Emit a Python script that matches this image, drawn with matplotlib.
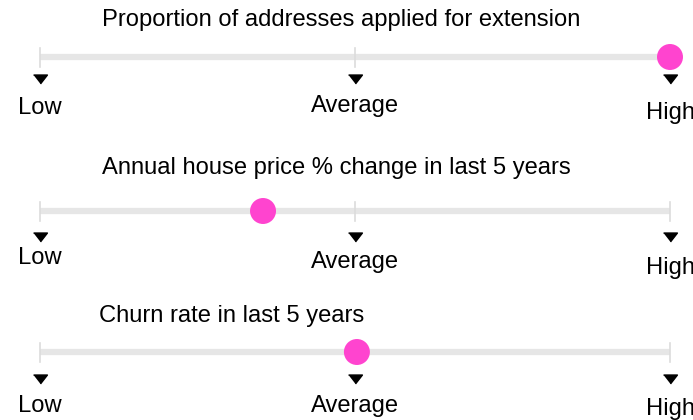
import numpy as np
import matplotlib
matplotlib.use("Agg")
import matplotlib.pyplot as plt

# data
titles = ["Proportion of addresses applied for extension",
          "Annual house price % change in last 5 years",
          "Churn rate in last 5 years"]
values = [1.0, 0.354, 0.503]   # position on Low..High scale (0..1)
tick_labels = ["Low", "Average", "High"]
tick_pos = [0.0, 0.5, 1.0]

plt.rcParams['font.family'] = ['Liberation Sans', 'DejaVu Sans']

fig = plt.figure(figsize=(6.93, 4.20), dpi=100)
ax = fig.add_axes([0, 0, 1, 1])
ax.set_xlim(0, 693)
ax.set_ylim(420, 0)
ax.axis('off')

x0, x1 = 40, 670
def xs(v):
    return x0 + np.asarray(v) * (x1 - x0)

# per-gauge layout (pixels)
title_x = [102, 102, 99]
title_y = [20, 168, 316]
bar_y = [57, 211, 352]
tri_y = [79, 237, 379]
lab_y = [[108, 106, 113], [258, 262, 268], [406, 406, 409]]

tri = [(-7, 4.5), (7, 4.5), (0, -4.5)]

for i in range(3):
    y = bar_y[i]
    ax.text(title_x[i], title_y[i], titles[i], fontsize=17.15, ha='left', va='center')
    ax.plot([x0, x1], [y, y], color='#e6e6e6', lw=4.5, solid_capstyle='butt', zorder=1)
    for t in tick_pos:
        ax.plot([xs(t), xs(t)], [y - 9, y + 10], color='#dcdcdc', lw=1.2, zorder=1)
    ax.plot(xs(tick_pos), [tri_y[i]] * 3, ls='none', marker=tri, markersize=10,
            color='black', zorder=2)
    for t, lab, ly in zip(tick_pos, tick_labels, lab_y[i]):
        ax.text(xs(t), ly, lab, fontsize=17.15, ha='center', va='center')
    ax.scatter(xs(values[i]), y, s=350, color='#ff44cf', edgecolors='none', zorder=3)

fig.savefig("out.png", dpi=100)
